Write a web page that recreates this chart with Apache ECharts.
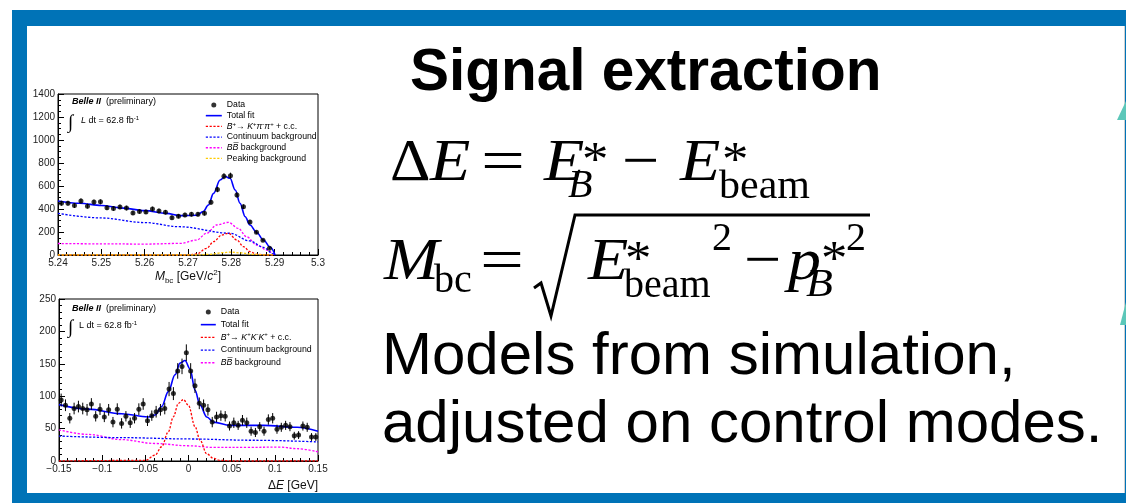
<!DOCTYPE html>
<html><head><meta charset="utf-8">
<script src="https://cdn.jsdelivr.net/npm/echarts@6/dist/echarts.min.js"></script>
<style>
html,body{margin:0;padding:0;background:#fff;width:1126px;height:503px;overflow:hidden;}
#frame{position:absolute;left:12px;top:10px;width:1114px;height:493px;background:#0073b7;}
#inner{position:absolute;left:27px;top:26px;width:1097px;height:467px;background:#fff;border-right:1px solid #d0d0d0;}
#chart{position:absolute;left:0;top:0;width:1126px;height:503px;z-index:2;}
</style></head><body>
<div id="frame"></div><div id="inner"></div><div id="chart"></div>
<script>
// ===== Mbc panel (top) =====
const mbcAxisX = [5.24, 5.3, 0.01];
const mbcAxisY = [0, 1400, 200];
const mbcBinCenters = [5.2408,5.2423,5.2438,5.2453,5.2468,5.2483,5.2498,5.2513,5.2528,5.2543,5.2558,5.2573,5.2588,5.2603,5.2618,5.2633,5.2648,5.2663,5.2678,5.2693,5.2708,5.2723,5.2738,5.2753,5.2768,5.2783,5.2798,5.2813,5.2828,5.2843,5.2858,5.2873,5.2888];
const mbcCounts = [450,450,430,470,425,460,462,410,405,418,408,366,378,375,400,383,372,325,337,348,354,354,362,458,570,685,690,522,420,288,198,128,58];
const mbcErrors = [21,21,21,22,21,21,21,20,20,20,20,19,19,19,20,20,19,18,18,19,19,19,19,21,24,26,26,23,20,17,14,11,8];
const mbcTotalFitX = [5.24,5.245,5.25,5.255,5.26,5.265,5.2682,5.272,5.2735,5.2747,5.2759,5.2774,5.2786,5.2797,5.2809,5.282,5.2832,5.2843,5.2859,5.2874,5.289,5.2901];
const mbcTotalFitY = [470,450,430,408,386,362,342,346,377,435,536,652,682,667,565,450,333,261,194,130,67,0];
const mbcContinuumX = [5.24,5.25,5.26,5.268,5.2797,5.2843,5.2874,5.2897,5.29];
const mbcContinuumY = [362,322,282,246,189,122,67,9,0];
const mbcBBbarX = [5.24,5.25,5.26,5.2682,5.272,5.2743,5.2766,5.2793,5.2816,5.2835,5.2859,5.2882,5.2897,5.29];
const mbcBBbarY = [100,97,95,101,130,189,261,284,232,159,87,43,14,0];
const mbcSignalX = [5.24,5.27,5.272,5.2743,5.2759,5.2778,5.2793,5.2813,5.2828,5.2843,5.2859,5.288,5.29];
const mbcSignalY = [0,0,9,58,116,174,189,130,72,29,6,0,0];
const mbcPeakingX = [5.24,5.272,5.275,5.278,5.2797,5.282,5.285,5.288,5.29];
const mbcPeakingY = [0,0,6,20,25,19,6,1,0];

// ===== Delta E panel (bottom) =====
const deAxisX = [-0.15, 0.15, 0.05];
const deAxisY = [0, 250, 50];
const deBinCenters = [-0.1475,-0.1425,-0.1375,-0.1325,-0.1275,-0.1225,-0.1175,-0.1125,-0.1075,-0.1025,-0.0975,-0.0925,-0.0875,-0.0825,-0.0775,-0.0725,-0.0675,-0.0625,-0.0575,-0.0525,-0.0475,-0.0425,-0.0375,-0.0325,-0.0275,-0.0225,-0.0175,-0.0125,-0.0075,-0.0025,0.0025,0.0075,0.0125,0.0175,0.0225,0.0275,0.0325,0.0375,0.0425,0.0475,0.0525,0.0575,0.0625,0.0675,0.0725,0.0775,0.0825,0.0875,0.0925,0.0975,0.1025,0.1075,0.1125,0.1175,0.1225,0.1275,0.1325,0.1375,0.1425,0.1475];
const deCounts = [94,86,66,81,84,81,79,88,69,80,68,79,60,80,58,69,59,66,80,88,62,70,76,79,81,111,104,139,146,167,139,116,89,86,79,60,68,70,69,54,59,55,63,59,46,44,53,46,64,66,49,52,55,53,39,40,54,52,37,37];
const deErrors = [10,9,8,9,9,9,9,9,8,9,8,9,8,9,8,8,8,8,9,9,8,8,9,9,9,11,10,12,12,13,12,11,9,9,9,8,8,8,8,7,8,7,8,8,7,7,7,7,8,8,7,7,7,7,6,6,7,7,6,6];
const deTotalFitX = [-0.15,-0.1163,-0.0775,-0.0466,-0.0388,-0.0311,-0.0234,-0.0156,-0.0098,-0.004,0.0018,0.0076,0.0134,0.0212,0.0289,0.0483,0.087,0.1257,0.15];
const deTotalFitY = [87,80,73,68,71,84,107,133,151,155,142,109,86,68,60,55,55,52,46];
const deSignalX = [-0.15,-0.05,-0.0388,-0.0311,-0.0234,-0.0176,-0.0117,-0.0059,-0.0001,0.0076,0.0134,0.0212,0.0289,0.0367,0.05,0.15];
const deSignalY = [0,1,9,22,45,68,89,95,86,53,32,11,4,1,0,0];
const deContinuumX = [-0.15,-0.075,0,0.075,0.15];
const deContinuumY = [38.5,36,34,32,29.5];
const deBBbarX = [-0.15,-0.1163,-0.0775,-0.0388,0,0.0289,0.0677,0.1064,0.1257,0.15];
const deBBbarY = [48,41,33,27,23.5,21,21,21.5,19,14];

// ===== names =====
const N_DATA = 'Data', N_FIT = 'Total fit', N_CONT = 'Continuum background', N_BB = 'BBbar background', N_PEAK = 'Peaking background';
const N_SIG_TOP = 'B+ -> K+ pi- pi+ + c.c.', N_SIG_BOT = 'B+ -> K+ K- K+ + c.c.';

const SANS = '"Liberation Sans", Arial, Helvetica, sans-serif';
const SERIF = '"Liberation Serif", "Times New Roman", serif';

function zip(xs, ys, es) { return xs.map((x, i) => es ? [x, ys[i], es[i]] : [x, ys[i]]); }

const legendRich = {
  i: {fontStyle: 'italic', fontFamily: SANS, fontSize: 8.7},
  s: {fontFamily: SANS, fontSize: 6, lineHeight: 6, verticalAlign: 'top'}
};
const legendLabels = {};
legendLabels[N_SIG_TOP] = '{i|B}{s|+}→ {i|K}{s|+}{i|π}{s|-}{i|π}{s|+} + c.c.';
legendLabels[N_SIG_BOT] = '{i|B}{s|+}→ {i|K}{s|+}{i|K}{s|-}{i|K}{s|+} + c.c.';
legendLabels[N_BB] = '{i|BB\u0305} background';
function legendFmt(n) { return legendLabels[n] || n; }

function curve(name, xi, yi, xs, ys, color, width, dashed) {
  return {
    name: name, type: 'line', xAxisIndex: xi, yAxisIndex: yi, data: zip(xs, ys),
    symbol: 'none', smooth: 0.35, smoothMonotone: 'x', z: 3, silent: true,
    lineStyle: {color: color, width: width, type: dashed ? [2.2, 1.6] : 'solid'},
    itemStyle: {color: color}
  };
}
function errBars(xi, yi, xs, ys, es) {
  return {
    name: 'errors', type: 'custom', xAxisIndex: xi, yAxisIndex: yi, z: 4, silent: true,
    data: zip(xs, ys, es),
    renderItem: function (params, api) {
      const x = api.value(0), y = api.value(1), e = api.value(2);
      const a = api.coord([x, y - e]), b = api.coord([x, y + e]);
      return {type: 'line', shape: {x1: a[0], y1: a[1], x2: b[0], y2: b[1]}, style: {stroke: '#000', lineWidth: 1}};
    }
  };
}
function dataPts(xi, yi, xs, ys) {
  return {name: N_DATA, type: 'scatter', xAxisIndex: xi, yAxisIndex: yi, data: zip(xs, ys),
    symbol: 'circle', symbolSize: 5, itemStyle: {color: '#000'}, z: 5, silent: true};
}

function axisCommon() {
  return {
    type: 'value',
    axisLine: {show: true, onZero: false, lineStyle: {color: '#000', width: 1}},
    axisTick: {show: true, inside: true, length: 6, lineStyle: {color: '#000', width: 1}},
    minorTick: {show: true, splitNumber: 5, length: 3, lineStyle: {color: '#000', width: 1}},
    splitLine: {show: false},
    axisLabel: {fontSize: 10, color: '#222', fontFamily: SANS, margin: 3, hideOverlap: false, showMinLabel: true, showMaxLabel: true,
      formatter: v => String(v)}
  };
}

const xTop = Object.assign(axisCommon(), {gridIndex: 0, min: mbcAxisX[0], max: mbcAxisX[1], interval: mbcAxisX[2],
  name: '{i|M}{sub|bc} [GeV/{i|c}{sup|2}]', nameLocation: 'middle', nameGap: 12,
  nameTextStyle: {fontSize: 12, fontFamily: SANS, color: '#111', lineHeight: 16,
    rich: {i: {fontStyle: 'italic', fontSize: 12, fontFamily: SANS, lineHeight: 16},
           sub: {fontSize: 8, fontFamily: SANS, lineHeight: 9, verticalAlign: 'bottom'},
           sup: {fontSize: 8, fontFamily: SANS, lineHeight: 9, verticalAlign: 'top'}}}});
xTop.axisLabel.formatter = v => String(+v.toFixed(2));
const yTop = Object.assign(axisCommon(), {gridIndex: 0, min: mbcAxisY[0], max: mbcAxisY[1], interval: mbcAxisY[2]});
yTop.minorTick = Object.assign({}, yTop.minorTick, {splitNumber: 4});

const xBot = Object.assign(axisCommon(), {gridIndex: 1, min: deAxisX[0], max: deAxisX[1], interval: deAxisX[2],
  name: 'Δ{i|E} [GeV]', nameLocation: 'end', nameGap: 0,
  nameTextStyle: {fontSize: 12, fontFamily: SANS, color: '#111', align: 'right', verticalAlign: 'top', padding: [19, 0, 0, 0],
    rich: {i: {fontStyle: 'italic', fontSize: 12, fontFamily: SANS}}}});
xBot.axisLabel.formatter = v => { const r = +v.toFixed(2); return r === 0 ? '0' : String(r).replace('-', '\u2212'); };
const yBot = Object.assign(axisCommon(), {gridIndex: 1, min: deAxisY[0], max: deAxisY[1], interval: deAxisY[2]});

function T(text, x, base, size, o) {
  o = o || {};
  const el = {type: 'text', x: x, y: base - 0.33 * size, z: 10, silent: true,
    style: {text: text, fontSize: size, fontFamily: o.family || SERIF, fontStyle: o.italic ? 'italic' : 'normal',
      fontWeight: o.bold ? 'bold' : 'normal', fill: '#000', verticalAlign: 'middle', align: o.align || 'left', rich: o.rich}};
  if (o.sx) el.scaleX = o.sx;
  return el;
}
const annoRich = {b: {fontWeight: 'bold', fontStyle: 'italic', fontSize: 9, fontFamily: SANS},
  i: {fontStyle: 'italic', fontSize: 9, fontFamily: SANS},
  s: {fontSize: 6, fontFamily: SANS, lineHeight: 6, verticalAlign: 'top'}};

const B1 = 184, B2 = 283, SX = 1.18;
const graphics = [
  // slide title and text
  T('Signal extraction', 410, 93, 58.5, {family: SANS, bold: true}),
  T('Models from simulation,', 382, 377, 60, {family: SANS}),
  T('adjusted on control modes.', 382, 445, 60, {family: SANS}),
  // Delta E formula
  T('Δ', 390, B1, 60, {sx: 1.05}),
  T('E', 430, B1, 60, {italic: true, sx: 1.1}),
  T('=', 481, B1, 60, {sx: 1.3}),
  T('E', 544, B1, 60, {italic: true, sx: 1.1}),
  T('*', 582, B1 - 6, 48, {sx: 1.1}),
  T('B', 568, B1 + 16, 40, {italic: true}),
  T('\u2212', 622, B1, 60, {sx: 1.1}),
  T('E', 680, B1, 60, {italic: true, sx: 1.1}),
  T('*', 722, B1 - 6, 48, {sx: 1.1}),
  T('beam', 719, B1 + 17, 40, {sx: 1.05}),
  // Mbc formula
  T('M', 384, B2, 60, {italic: true, sx: 1.1}),
  T('bc', 434, B2 + 12, 40),
  T('=', 480, B2, 60, {sx: 1.3}),
  {type: 'polyline', z: 10, silent: true, shape: {points: [[534, 288], [541, 283], [551, 316], [575, 215], [870, 215]]},
    style: {stroke: '#000', lineWidth: 3, fill: null, lineJoin: 'miter'}},
  T('E', 588, B2, 60, {italic: true, sx: 1.1}),
  T('*', 625, B2 - 6, 48, {sx: 1.1}),
  T('beam', 624, B2 + 17, 40),
  T('2', 712, B2 - 30, 40),
  T('\u2212', 744, B2, 60, {sx: 1.1}),
  T('p', 788, B2, 60, {italic: true, sx: 1.1}),
  T('*', 821, B2 - 6, 48, {sx: 1.1}),
  T('B', 806, B2 + 16, 40, {italic: true, sx: 1.1}),
  T('2', 846, B2 - 30, 40),
  // decorative teal shapes at right edge
  {type: 'polygon', z: 1, silent: true, shape: {points: [[1126, 101], [1117, 120], [1126, 120]]}, style: {fill: '#5cc7b9'}},
  {type: 'polygon', z: 1, silent: true, shape: {points: [[1126, 302], [1120, 325], [1126, 325]]}, style: {fill: '#5cc7b9'}},
  // in-plot annotations, top
  T('{b|Belle II}  (preliminary)', 72, 104, 9, {family: SANS, rich: annoRich}),
  T('\u222B', 68, 129, 19, {family: SERIF}),
  T('{i|L} dt = 62.8 fb{s|-1}', 81, 123, 9, {family: SANS, rich: annoRich}),
  // in-plot annotations, bottom
  T('{b|Belle II}  (preliminary)', 72, 311, 9, {family: SANS, rich: annoRich}),
  T('\u222B', 68, 334, 19, {family: SERIF}),
  T('L dt = 62.8 fb{s|-1}', 79, 328, 9, {family: SANS, rich: annoRich})
];

const hide = {opacity: 0};
const option = {
  animation: false,
  backgroundColor: 'transparent',
  textStyle: {fontFamily: SANS},
  grid: [
    {left: 58, top: 94, width: 260, height: 161, show: true, borderColor: '#000', borderWidth: 1, backgroundColor: 'transparent', outerBoundsMode: 'none'},
    {left: 59, top: 299, width: 259, height: 162, show: true, borderColor: '#000', borderWidth: 1, backgroundColor: 'transparent', outerBoundsMode: 'none'}
  ],
  xAxis: [xTop, xBot],
  yAxis: [yTop, yBot],
  legend: [
    {orient: 'vertical', left: 205, top: 99.6, padding: 0, itemWidth: 16, itemHeight: 5, itemGap: 0, selectedMode: false,
     textStyle: {fontSize: 8.7, fontFamily: SANS, color: '#000', lineHeight: 10.7, rich: legendRich},
     lineStyle: {width: 'inherit'}, formatter: legendFmt,
     data: [{name: N_DATA}, {name: N_FIT, itemStyle: hide}, {name: N_SIG_TOP, itemStyle: hide}, {name: N_CONT, itemStyle: hide}, {name: N_BB, itemStyle: hide}, {name: N_PEAK, itemStyle: hide}]},
    {orient: 'vertical', left: 200, top: 305.6, padding: 0, itemWidth: 15, itemHeight: 5, itemGap: 0, selectedMode: false,
     textStyle: {fontSize: 8.8, fontFamily: SANS, color: '#000', lineHeight: 12.7, rich: legendRich},
     lineStyle: {width: 'inherit'}, formatter: legendFmt,
     data: [{name: N_DATA}, {name: N_FIT, itemStyle: hide}, {name: N_SIG_BOT, itemStyle: hide}, {name: N_CONT, itemStyle: hide}, {name: N_BB, itemStyle: hide}]}
  ],
  series: [
    curve(N_BB, 0, 0, mbcBBbarX, mbcBBbarY, '#ff00ff', 1.3, true),
    curve(N_CONT, 0, 0, mbcContinuumX, mbcContinuumY, '#0000ff', 1.3, true),
    curve(N_SIG_TOP, 0, 0, mbcSignalX, mbcSignalY, '#ff0000', 1.3, true),
    curve(N_PEAK, 0, 0, mbcPeakingX, mbcPeakingY, '#ffcc00', 1.3, true),
    curve(N_FIT, 0, 0, mbcTotalFitX, mbcTotalFitY, '#0000ff', 1.6, false),
    errBars(0, 0, mbcBinCenters, mbcCounts, mbcErrors),
    dataPts(0, 0, mbcBinCenters, mbcCounts),

    curve(N_BB, 1, 1, deBBbarX, deBBbarY, '#ff00ff', 1.3, true),
    curve(N_CONT, 1, 1, deContinuumX, deContinuumY, '#0000ff', 1.3, true),
    curve(N_SIG_BOT, 1, 1, deSignalX, deSignalY, '#ff0000', 1.3, true),
    curve(N_FIT, 1, 1, deTotalFitX, deTotalFitY, '#0000ff', 1.6, false),
    errBars(1, 1, deBinCenters, deCounts, deErrors),
    dataPts(1, 1, deBinCenters, deCounts)
  ],
  graphic: graphics
};

const chart = echarts.init(document.getElementById('chart'), null, {renderer: 'canvas'});
chart.setOption(option);
</script></body></html>
